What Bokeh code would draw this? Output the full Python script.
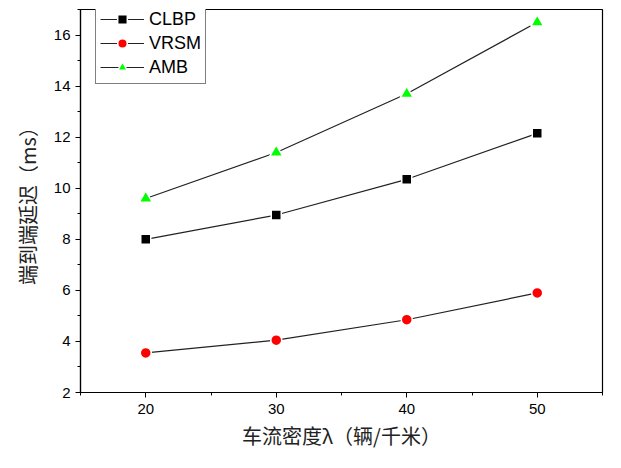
from bokeh.plotting import figure
from bokeh.models import FixedTicker, Legend, LegendItem
from bokeh.embed import file_html
from bokeh.resources import INLINE

density = [20, 30, 40, 50]
clbp = [8.0, 8.95, 10.35, 12.15]
vrsm = [3.55, 4.05, 4.85, 5.9]
amb = [9.6, 11.4, 13.7, 16.5]

x_ticks = [20, 30, 40, 50]
x_minor = [15, 25, 35, 45, 55]
y_ticks = [2, 4, 6, 8, 10, 12, 14, 16]
y_minor = [3, 5, 7, 9, 11, 13, 15, 17]

x_title = "车流密度λ（辆/千米）"
y_title = "端到端延迟（ms）"

p = figure(width=605, height=452, x_range=(15, 55), y_range=(2, 17),
           output_backend="svg", toolbar_location=None,
           min_border_left=80, min_border_right=3, min_border_top=9,
           min_border_bottom=56)
p.xgrid.visible = False
p.ygrid.visible = False
p.outline_line_color = "black"
p.outline_line_width = 1.2
p.background_fill_color = "white"
p.border_fill_color = "white"

p.xaxis.ticker = FixedTicker(ticks=x_ticks, minor_ticks=x_minor)
p.yaxis.ticker = FixedTicker(ticks=y_ticks, minor_ticks=y_minor)

for ax in (p.xaxis[0], p.yaxis[0]):
    ax.axis_line_color = "black"
    ax.axis_line_width = 1.2
    ax.major_tick_line_color = "black"
    ax.minor_tick_line_color = "black"
    ax.major_tick_out = 5
    ax.major_tick_in = 0
    ax.minor_tick_out = 3
    ax.minor_tick_in = 0
    ax.major_label_text_font = "Liberation Sans"
    ax.major_label_text_font_size = "15px"
    ax.major_label_text_color = "black"
    ax.axis_label_text_font = "Noto Sans CJK SC"
    ax.axis_label_text_font_size = "20px"
    ax.axis_label_text_font_style = "normal"
    ax.axis_label_text_color = "#222222"

p.xaxis.axis_label = x_title
p.yaxis.axis_label = y_title
p.xaxis.major_label_standoff = 6
p.xaxis.axis_label_standoff = 4
p.yaxis.major_label_standoff = 5
p.yaxis.axis_label_standoff = 9

series = [("CLBP", clbp, "square", "black", 10),
          ("VRSM", vrsm, "circle", "red", 11),
          ("AMB", amb, "triangle", "#00ff00", 13)]

items = []
for name, vals, marker, color, size in series:
    ln = p.line(density, vals, line_color="#222222", line_width=1.2)
    sc = p.scatter(density, vals, marker=marker, size=size, fill_color=color,
                   line_color="white", line_width=1.5)
    items.append(LegendItem(label=name, renderers=[ln, sc]))

legend = Legend(items=items, location=(15, 308))
legend.border_line_color = "black"
legend.border_line_width = 1
legend.background_fill_alpha = 1
legend.label_text_font = "Liberation Sans"
legend.label_text_font_size = "18px"
legend.label_text_color = "black"
legend.glyph_width = 44
legend.glyph_height = 24
legend.spacing = 0
legend.padding = 4
legend.label_standoff = 5
legend.margin = 0
p.add_layout(legend)

open("out.html", "w").write(file_html(p, INLINE))
